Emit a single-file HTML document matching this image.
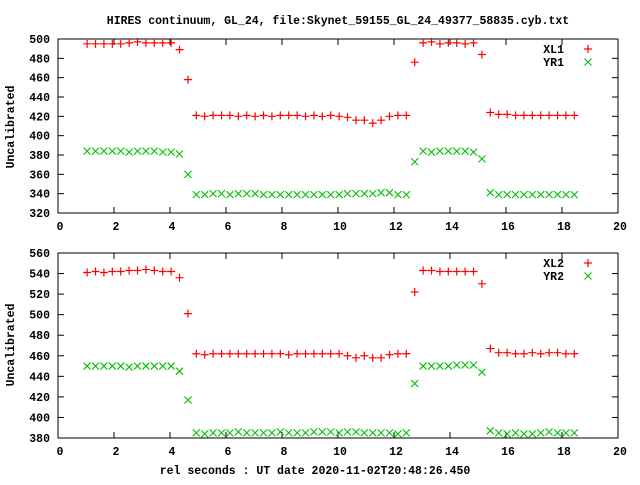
<!DOCTYPE html>
<html><head><meta charset="utf-8"><style>
html,body{margin:0;padding:0;background:#fff;}
svg text{font-family:"Liberation Mono","DejaVu Sans Mono",monospace;font-size:11.5px;font-weight:bold;fill:#000;}
</style></head><body>
<svg id="c" width="640" height="480" viewBox="0 0 640 480" xmlns="http://www.w3.org/2000/svg">
<rect width="640" height="480" fill="#fff"/>
<text x="338" y="24" text-anchor="middle">HIRES continuum, GL_24, file:Skynet_59155_GL_24_49377_58835.cyb.txt</text>
<text x="315" y="474" text-anchor="middle">rel seconds : UT date 2020-11-02T20:48:26.450</text>
<text transform="translate(14,127) rotate(-90)" text-anchor="middle">Uncalibrated</text>
<text transform="translate(14,345) rotate(-90)" text-anchor="middle">Uncalibrated</text>
</svg>
<script>
const xs=[1.04,1.34,1.64,1.94,2.24,2.54,2.84,3.14,3.44,3.74,4.04,4.34,4.64,4.94,5.24,5.54,5.84,6.14,6.44,6.74,7.04,7.34,7.64,7.94,8.24,8.54,8.84,9.14,9.44,9.74,10.04,10.34,10.64,10.94,11.24,11.54,11.84,12.14,12.44,12.74,13.04,13.34,13.64,13.94,14.24,14.54,14.84,15.14,15.44,15.74,16.04,16.34,16.64,16.94,17.24,17.54,17.84,18.14,18.44];
const xl1=[495,495,495,495,495,496,497,496,496,496,496,489,458,421,420,421,421,421,420,421,420,421,420,421,421,421,420,421,420,421,420,419,416,416,413,416,420,421,421,476,496,497,495,496,496,495,496,484,424,422,422,421,421,421,421,421,421,421,421];
const yr1=[384,384,384,384,384,383,384,384,384,383,383,381,360,339,339,340,340,339,340,340,340,339,339,339,339,339,339,339,339,339,339,340,340,340,340,341,341,339,339,373,384,383,384,384,384,384,383,376,341,339,339,339,339,339,339,339,339,339,339];
const xl2=[541,542,541,542,542,543,543,544,543,542,542,536,501,462,461,462,462,462,462,462,462,462,462,462,461,462,462,462,462,462,462,460,458,460,458,458,461,462,462,522,543,543,542,542,542,542,542,530,467,463,463,462,462,463,462,463,463,462,462];
const yr2=[450,450,450,450,450,449,450,450,450,450,450,445,417,385,384,385,385,385,386,385,385,385,385,386,385,385,385,386,386,386,385,386,386,385,385,385,385,384,385,433,450,450,450,450,451,451,451,444,387,385,384,385,384,384,385,386,385,385,385];
const xTicks=[0,2,4,6,8,10,12,14,16,18,20];
const yTicksTop=[320,340,360,380,400,420,440,460,480,500];
const yTicksBot=[380,400,420,440,460,480,500,520,540,560];
const NS="http://www.w3.org/2000/svg";
const svg=document.getElementById('c');
function mk(t,a,p){const e=document.createElementNS(NS,t);for(const k in a)e.setAttribute(k,a[k]);(p||svg).appendChild(e);return e;}
const L=58,R=618;
const xS=v=>L+(v-0)*(R-L)/20;
function panel(name,top,bot,ymin,ymax,yt,s1,s2,n1,n2){
  const g=mk('g',{});
  
  
  const yS=v=>bot-(v-ymin)*(bot-top)/(ymax-ymin);
  const fr=mk('rect',{x:L,y:top,width:R-L,height:bot-top,fill:'none',stroke:'#000','stroke-width':1},g);
  
  
  xTicks.forEach(t=>{
    const x=xS(t);
    mk('line',{x1:x,y1:bot,x2:x,y2:bot-6,stroke:'#000'},g);
    mk('line',{x1:x,y1:top,x2:x,y2:top+6,stroke:'#000'},g);
    const tx=mk('text',{x:x+2,y:bot+17,'text-anchor':'middle'},g);tx.textContent=t;
    
    
  });
  yt.forEach(t=>{
    const y=yS(t);
    mk('line',{x1:L,y1:y,x2:L+6,y2:y,stroke:'#000'},g);
    mk('line',{x1:R,y1:y,x2:R-6,y2:y,stroke:'#000'},g);
    const tx=mk('text',{x:L-8,y:y+4,'text-anchor':'end'},g);tx.textContent=t;
    
    
  });
  const plus=(x,y,p)=>{mk('path',{d:`M${x-4} ${y}H${x+4}M${x} ${y-4}V${y+4}`,stroke:'#ff0000','stroke-width':1.2,fill:'none'},p);};
  const cross=(x,y,p)=>{mk('path',{d:`M${x-3.5} ${y-3.5}L${x+3.5} ${y+3.5}M${x-3.5} ${y+3.5}L${x+3.5} ${y-3.5}`,stroke:'#00c000','stroke-width':1.1,fill:'none'},p);};
  const g1=mk('g',{},g);
  
  
  s1.forEach((v,i)=>plus(xS(xs[i]),yS(v),g1));
  const g2=mk('g',{},g);
  
  
  s2.forEach((v,i)=>cross(xS(xs[i]),yS(v),g2));
  const lg=mk('g',{},g);
  
  
  const a=mk('text',{x:564,y:top+14,'text-anchor':'end'},lg);a.textContent=n1;
  plus(588,top+10,lg);
  const b=mk('text',{x:564,y:top+27,'text-anchor':'end'},lg);b.textContent=n2;
  cross(588,top+23,lg);
}
panel('top',39,213,320,500,yTicksTop,xl1,yr1,'XL1','YR1');
panel('bottom',253,438,380,560,yTicksBot,xl2,yr2,'XL2','YR2');
</script>
</body></html>
